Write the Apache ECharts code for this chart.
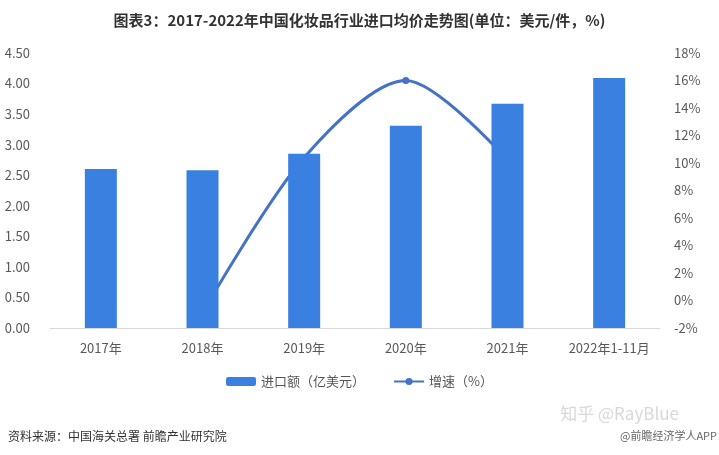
<!DOCTYPE html>
<html>
<head>
<meta charset="utf-8">
<script src="https://cdn.jsdelivr.net/npm/echarts@6/dist/echarts.min.js"></script>
<style>html,body{margin:0;padding:0;background:#fff;}#c{width:719px;height:455px;}</style>
</head>
<body>
<div id="c"></div>
<script>
const categories = ['2017年', '2018年', '2019年', '2020年', '2021年', '2022年1-11月'];
const importPrice = [2.60, 2.58, 2.85, 3.31, 3.67, 4.09];
const growthRate = [null, -0.9, 10.4, 16.0, 10.2, null];
const leftTicks = { min: 0, max: 4.5, interval: 0.5 };
const rightTicks = { min: -2, max: 18, interval: 2 };

const chart = echarts.init(document.getElementById('c'));
const font = '"Microsoft YaHei","Noto Sans CJK SC",sans-serif';
chart.setOption({
  backgroundColor: '#fff',
  animation: false,
  title: {
    text: '图表3：2017-2022年中国化妆品行业进口均价走势图(单位：美元/件，%)',
    left: 'center', top: 8,
    textStyle: { fontSize: 15, fontWeight: 'bold', color: '#333', fontFamily: font }
  },
  grid: { left: 50, right: 59, top: 53, bottom: 127 },
  legend: {
    bottom: 62, left: 'center', itemGap: 28, itemWidth: 30, itemHeight: 9,
    textStyle: { fontSize: 13, color: '#555', fontFamily: font },
    data: ['进口额（亿美元）', '增速（%）']
  },
  xAxis: {
    type: 'category', data: categories,
    axisLine: { lineStyle: { color: '#d9d9d9' } },
    axisTick: { show: false },
    axisLabel: { color: '#595959', fontSize: 13, margin: 14, interval: 0, fontFamily: font }
  },
  yAxis: [
    { type: 'value', min: leftTicks.min, max: leftTicks.max, interval: leftTicks.interval,
      splitLine: { show: false }, axisLine: { show: false }, axisTick: { show: false },
      axisLabel: { color: '#595959', fontSize: 13, margin: 20, formatter: v => v.toFixed(2), fontFamily: font } },
    { type: 'value', min: rightTicks.min, max: rightTicks.max, interval: rightTicks.interval,
      splitLine: { show: false }, axisLine: { show: false }, axisTick: { show: false },
      axisLabel: { color: '#595959', fontSize: 13, margin: 14, formatter: v => v + '%', fontFamily: font } }
  ],
  series: [
    { name: '进口额（亿美元）', type: 'bar', data: importPrice, barWidth: 32, z: 3,
      itemStyle: { color: '#3a80e0' } },
    { name: '增速（%）', type: 'line', yAxisIndex: 1, data: growthRate, smooth: 0.3, z: 1,
      symbol: 'circle', symbolSize: 7, showSymbol: true,
      lineStyle: { color: '#4472c4', width: 3 }, itemStyle: { color: '#4472c4' } }
  ],
  graphic: [
    { type: 'text', left: 8, top: 430,
      style: { text: '资料来源：中国海关总署 前瞻产业研究院', fontSize: 12, fill: '#333', fontFamily: font } },
    { type: 'text', right: 40, top: 405,
      style: { text: '知乎 @RayBlue', fontSize: 17, fill: '#d8d8d8', fontFamily: font } },
    { type: 'text', right: 2, top: 430,
      style: { text: '@前瞻经济学人APP', fontSize: 11, fill: '#666', fontFamily: font } }
  ]
});
</script>
</body>
</html>
